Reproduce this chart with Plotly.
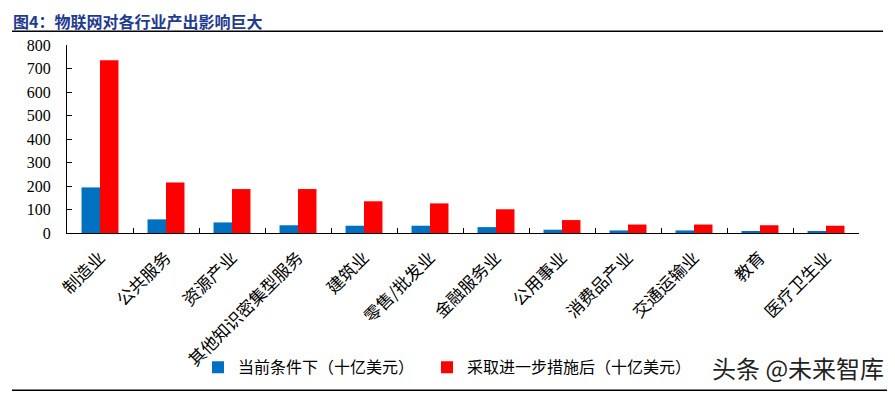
import plotly.graph_objects as go

categories = ["制造业", "公共服务", "资源产业", "其他知识密集型服务", "建筑业", "零售/批发业",
              "金融服务业", "公用事业", "消费品产业", "交通运输业", "教育", "医疗卫生业"]
current_vals = [194, 58, 45, 33, 31, 31, 25, 14, 11, 11, 6, 6]
further_vals = [735, 215, 187, 187, 135, 126, 101, 55, 36, 36, 33, 31]
series_names = ["当前条件下（十亿美元）", "采取进一步措施后（十亿美元）"]
title_text = "图4：物联网对各行业产出影响巨大"
watermark = "头条 @未来智库"

# page body has an 8px margin; design in window pixels and shift
OFF = 8
W, H = 895 - OFF, 393 - OFF
plot_left, plot_right, plot_top, plot_bottom = 67, 859, 44.7, 232.7
L = plot_left - OFF
R = W - (plot_right - OFF)
T = plot_top - OFF
B = H - (plot_bottom - OFF)
pw, ph = W - L - R, H - T - B

def px_x(x):
    return (x - OFF - L) / pw

def px_y(y):
    return (H - B - (y - OFF)) / ph

cjk = "Noto Sans CJK SC"
serif = "Times New Roman"

fig = go.Figure()
fig.add_trace(go.Bar(x=categories, y=current_vals, name=series_names[0], legend="legend",
                     marker=dict(color="#0070C0", line=dict(width=0))))
fig.add_trace(go.Bar(x=categories, y=further_vals, name=series_names[1], legend="legend2",
                     marker=dict(color="#FF0000", line=dict(width=0))))

legend_common = dict(orientation="h", yanchor="middle", xanchor="left",
                     font=dict(family=cjk, size=16, color="#000000"),
                     itemwidth=30, bgcolor="rgba(0,0,0,0)")

fig.update_layout(
    width=W, height=H,
    margin=dict(l=L, r=R, t=T, b=B, autoexpand=False),
    paper_bgcolor="white", plot_bgcolor="white",
    barmode="group", bargap=0.44, bargroupgap=0,
    showlegend=True,
    legend=dict(x=px_x(198), y=px_y(367), **legend_common),
    legend2=dict(x=px_x(427), y=px_y(367), **legend_common),
    xaxis=dict(showline=True, linecolor="#000000", linewidth=1.2,
               ticks="inside", tickson="boundaries", ticklen=5, tickcolor="#000000",
               tickangle=-45, tickfont=dict(family=cjk, size=17, color="#000000"),
               ticklabelstandoff=7, showgrid=False, zeroline=False),
    yaxis=dict(range=[0, 800], dtick=100, showline=True, linecolor="#000000", linewidth=1.2,
               ticks="inside", ticklen=5, tickcolor="#000000",
               tickfont=dict(family=serif, size=16, color="#000000"),
               ticklabelstandoff=12, showgrid=False, zeroline=False),
)

fig.add_annotation(text=title_text, xref="paper", yref="paper", x=px_x(12), y=px_y(20.5),
                   xanchor="left", yanchor="middle", showarrow=False, borderpad=0,
                   font=dict(family=cjk, size=16, color="#1F3B8F", weight="bold"))
fig.add_annotation(text=watermark, xref="paper", yref="paper", x=px_x(886), y=px_y(367),
                   xanchor="right", yanchor="middle", showarrow=False,
                   font=dict(family=cjk, size=24, color="#222222"))

fig.add_shape(type="line", xref="paper", yref="paper", x0=px_x(12), x1=px_x(883),
              y0=px_y(31), y1=px_y(31), line=dict(color="#000000", width=1.5))
fig.add_shape(type="line", xref="paper", yref="paper", x0=px_x(12), x1=px_x(895),
              y0=px_y(390), y1=px_y(390), line=dict(color="#000000", width=1.5))

fig.write_html("out.html")
